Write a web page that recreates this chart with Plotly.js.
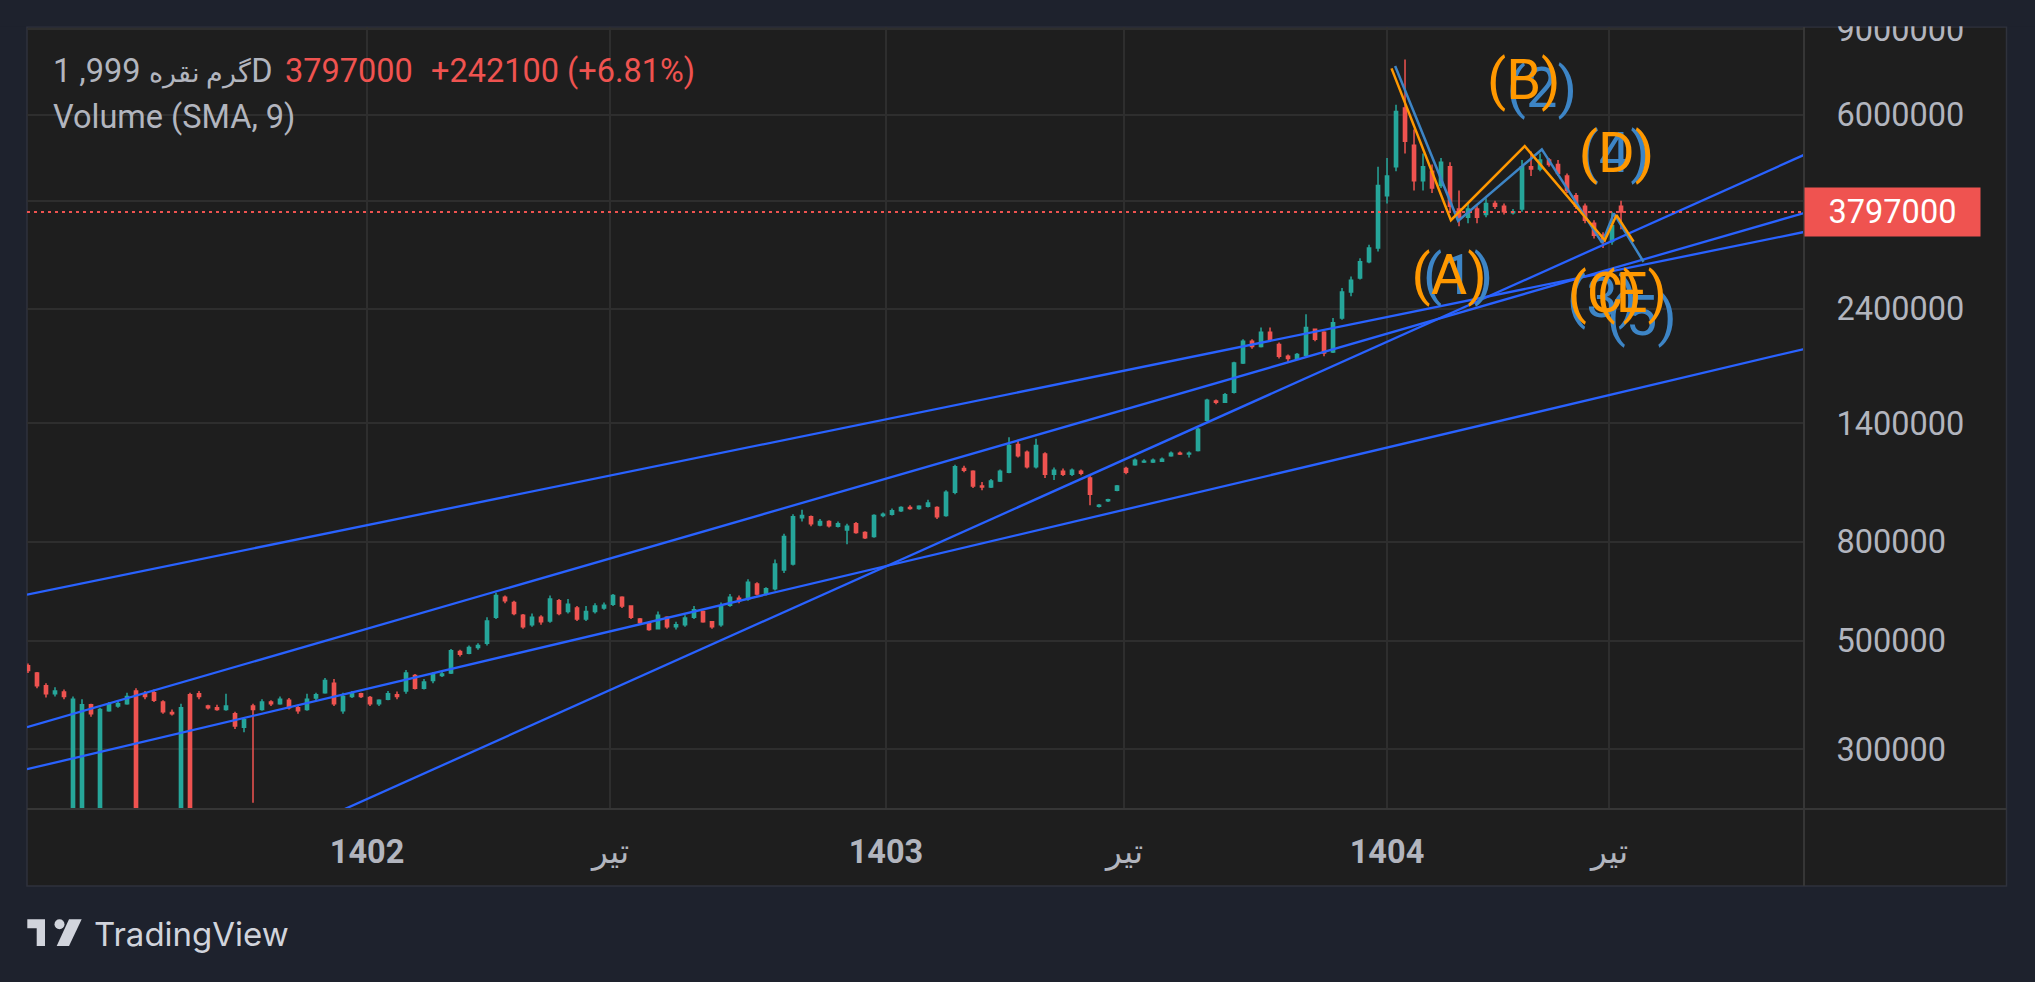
<!DOCTYPE html>
<html><head><meta charset="utf-8">
<script src="https://cdn.plot.ly/plotly-3.0.1.min.js"></script>
<style>html,body{margin:0;padding:0;background:#1e222d;}#chart{width:2035px;height:982px;}</style>
</head><body><div id="chart"></div>
<script>
// ---- OHLC data (in thousands), one entry per bar ----
const openK = [
445,430,405,390,393,200,200,370,200,360,
368,372,395,390,392,375,357,200,388,390,
368,365,362,355,333,368,362,375,372,378,
365,362,382,392,410,360,385,390,383,372,
380,388,395,425,400,415,425,430,476,472,
485,495,560,615,600,565,540,560,550,605,
575,585,555,575,585,595,615,590,555,545,
530,560,535,540,560,575,548,540,592,612,
610,655,625,640,700,720,895,900,865,880,
860,845,870,835,820,905,910,925,940,935,
945,940,905,1010,1130,1115,1040,1035,1065,1110,
1265,1220,1140,1210,1100,1115,1100,1115,1080,945,
970,1020,1130,1150,1165,1165,1170,1200,1215,1210,
1230,1420,1555,1545,1620,1860,2060,2010,2150,2030,
1920,1900,1930,2180,2150,1960,2300,2600,2780,3000,
3200,4100,4700,6200,5200,4400,4600,4300,4700,3850,
3700,3850,3750,3950,3900,3780,3850,4700,4650,4850,
4750,4500,4100,3900,3600,3400,3300,3900];
const highK = [
450,432,410,402,398,385,380,372,365,375,
378,392,400,395,398,378,362,372,392,395,
370,370,390,358,348,372,380,378,385,382,
370,390,392,420,418,392,395,392,386,380,
395,394,436,428,418,432,432,482,480,490,
495,560,628,620,605,568,570,565,620,610,
610,590,590,598,600,625,618,592,558,550,
575,562,548,565,590,578,550,600,625,620,
670,660,645,735,830,910,930,905,890,885,
880,870,878,840,910,918,935,945,950,950,
975,945,1020,1150,1145,1120,1060,1075,1125,1310,
1290,1230,1300,1220,1135,1130,1130,1125,1090,955,
980,1045,1140,1185,1180,1185,1190,1225,1225,1225,
1370,1570,1565,1615,1870,2080,2080,2200,2200,2050,
1935,1950,2340,2190,2160,2300,2650,2800,3050,3250,
4700,4900,6300,7800,5600,5000,4750,4900,4800,4200,
3950,3900,4050,4000,3950,3850,4850,5050,5000,4900,
4850,4550,4150,3950,3650,3450,3800,4000];
const lowK = [
430,400,383,385,380,200,200,350,200,358,
365,370,200,380,375,355,352,200,200,380,
362,360,360,330,325,233,360,368,370,362,
355,360,378,390,368,355,382,382,368,368,
378,380,390,398,398,410,422,428,465,470,
480,490,555,598,565,530,535,540,545,565,
570,550,550,570,580,590,585,555,540,525,
528,530,528,535,555,545,530,535,588,598,
605,620,620,635,690,715,880,860,860,855,
855,790,830,810,815,898,905,920,930,930,
940,890,900,1000,1110,1030,1020,1030,1060,1105,
1190,1130,1130,1080,1070,1090,1090,1095,950,940,
965,1015,1100,1145,1160,1160,1165,1195,1205,1190,
1225,1410,1530,1540,1610,1850,1990,2000,2060,1900,
1860,1890,1920,2060,1920,1950,2280,2550,2760,2980,
3150,3950,4600,5000,4200,4200,4150,4250,3800,3550,
3600,3600,3700,3850,3750,3750,3800,4500,4600,4700,
4500,4150,3850,3600,3350,3200,3250,3500];
const closeK = [
435,405,390,395,385,380,370,355,362,370,
372,385,200,385,378,358,355,365,200,385,
365,362,368,335,345,362,375,372,380,365,
360,380,388,415,372,385,390,385,372,378,
390,385,430,400,412,428,428,478,470,485,
490,550,620,605,570,535,560,548,610,570,
595,555,575,590,592,620,590,560,545,528,
565,535,540,558,580,548,535,590,615,605,
660,625,640,720,820,900,905,870,880,862,
870,860,835,815,905,910,925,940,935,945,
960,900,1010,1140,1120,1040,1035,1065,1115,1260,
1200,1140,1260,1100,1120,1100,1120,1105,1000,950,
975,1040,1110,1175,1170,1175,1180,1215,1210,1215,
1360,1560,1545,1600,1860,2060,2010,2150,2080,1920,
1900,1935,2200,2080,1950,2250,2600,2750,3000,3200,
4300,4500,6100,5300,4400,4700,4250,4800,3900,3700,
3850,3700,3950,3900,3800,3800,4700,4650,4850,4750,
4550,4200,3900,3650,3400,3300,3555,3797];

// ---- axis ticks ----
const xTickPos = [37.67, 64.67, 95.33, 121.78, 151, 175.67];
const xTickText = ['1402', 'تیر', '1403', 'تیر', '1404', 'تیر'];
const xTickBold = [true, false, true, false, true, false];
const yTickVals = [300000, 500000, 800000, 1400000, 2400000, 4000000, 6000000, 9000000];
const yTickText = ['300000', '500000', '800000', '1400000', '2400000', '', '6000000', '9000000'];

// ---- drawings: trend lines (bar index, price) ----
const trend1X = [-0.111, 197.33], trend1Y = [623000, 3453000];
const trend2X = [-0.111, 197.33], trend2Y = [333000, 3777000];
const trend3X = [-0.111, 197.33], trend3Y = [273000, 1987000];
const trend4X = [33.97, 197.33],  trend4Y = [221000, 4970000];

// ---- Elliott waves ----
const waveOrangeX = [151.5, 158.1, 166.3, 175.2, 176.5, 178.4];
const waveOrangeY = [7480000, 3650000, 5180000, 3320000, 3740000, 3300000];
const waveBlueX = [151.9, 158.9, 168.2, 174.9, 176.2, 179.5];
const waveBlueY = [7560000, 3640000, 5100000, 3280000, 3770000, 3000000];
const labelOrangeText = ['(A)', '(B)', '(C)', '(D)', '(E)'];
const labelOrangeX = [157.9, 166.2, 175.2, 176.5, 178.2];
const labelOrangeY = [2750000, 6910000, 2530000, 4890000, 2530000];
const labelBlueText = ['(1)', '(2)', '(3)', '(4)', '(5)'];
const labelBlueX = [158.9, 168.2, 174.9, 176.3, 179.3];
const labelBlueY = [2750000, 6650000, 2470000, 4890000, 2270000];

// ---- legend values ----
const symbolName = 'گرم نقره';
const symbolRest = ' 999, 1D';
const lastPrice = 3797000;
const changeText = '+242100 (+6.81%)';
const indicatorText = 'Volume (SMA, 9)';

const K = v => v * 1000;
const idx = openK.map((_, i) => i);
const xMin = -0.111, xMax = 197.33;

const UP = '#26a69a', DOWN = '#ef5350';
const traces = [
  {type: 'candlestick', x: idx, open: openK.map(K), high: highK.map(K), low: lowK.map(K), close: closeK.map(K),
   increasing: {line: {color: UP, width: 1.5}, fillcolor: UP},
   decreasing: {line: {color: DOWN, width: 1.5}, fillcolor: DOWN},
   whiskerwidth: 0, hoverinfo: 'skip'},
];
[[trend1X, trend1Y], [trend2X, trend2Y], [trend3X, trend3Y], [trend4X, trend4Y]].forEach(([x, y]) => {
  traces.push({type: 'scatter', mode: 'lines', x, y, line: {color: '#2962ff', width: 2.3}, hoverinfo: 'skip'});
});
traces.push({type: 'scatter', mode: 'lines', x: [xMin, xMax], y: [lastPrice, lastPrice],
  line: {color: '#ef5350', width: 2, dash: '3px,4px'}, hoverinfo: 'skip'});
traces.push({type: 'scatter', mode: 'lines', x: waveBlueX, y: waveBlueY, line: {color: '#3d85c6', width: 2.5}, hoverinfo: 'skip'});
traces.push({type: 'scatter', mode: 'lines', x: waveOrangeX, y: waveOrangeY, line: {color: '#ff9800', width: 2.5}, hoverinfo: 'skip'});
traces.push({type: 'scatter', mode: 'text', x: labelBlueX, y: labelBlueY, text: labelBlueText, textposition: 'middle center',
  textfont: {family: 'Roboto', size: 56, color: '#3d85c6'}, cliponaxis: false, hoverinfo: 'skip'});
traces.push({type: 'scatter', mode: 'text', x: labelOrangeX, y: labelOrangeY, text: labelOrangeText, textposition: 'middle center',
  textfont: {family: 'Roboto', size: 56, color: '#ff9800'}, cliponaxis: false, hoverinfo: 'skip'});

// pixel -> paper helpers for the frame decoration
const PL = 27, PR = 1804, PT = 27, PB = 809;
const px = x => (x - PL) / (PR - PL);
const py = y => (PB - y) / (PB - PT);
const pathOf = pts => 'M' + pts.map(p => px(p[0]).toFixed(5) + ',' + py(p[1]).toFixed(5)).join(' L') + ' Z';

const FONT = 'Roboto, "Open Sans", sans-serif';
const GRAY = '#b2b5be';
const layout = {
  width: 2035, height: 982, autosize: false,
  margin: {l: PL, r: 2035 - PR, t: PT, b: 982 - PB, pad: 0},
  paper_bgcolor: '#1e222d', plot_bgcolor: 'rgba(0,0,0,0)',
  showlegend: false, hovermode: false, boxgap: 0.5,
  font: {family: FONT, color: GRAY},
  xaxis: {range: [xMin, xMax], tickmode: 'array', tickvals: xTickPos,
    ticktext: xTickText.map((t, i) => xTickBold[i] ? '<b>' + t + '</b>' : t),
    showgrid: true, gridcolor: '#2e2e2e', gridwidth: 2, zeroline: false, showline: false,
    ticks: 'outside', ticklen: 14, tickcolor: 'rgba(0,0,0,0)',
    tickfont: {family: FONT, size: 32.5, color: GRAY}, rangeslider: {visible: false}, fixedrange: true},
  yaxis: {type: 'log', side: 'right', range: [5.3546, 6.9587], tickmode: 'array', tickvals: yTickVals, ticktext: yTickText,
    showgrid: true, gridcolor: '#2e2e2e', gridwidth: 2, zeroline: false, showline: false,
    ticks: 'outside', ticklen: 25, tickcolor: 'rgba(0,0,0,0)',
    tickfont: {family: FONT, size: 32.5, color: GRAY}, fixedrange: true},
  shapes: [
    {type: 'rect', xref: 'paper', yref: 'paper', x0: px(27), x1: px(2006.5), y0: py(886), y1: py(27),
     fillcolor: '#1e1e1e', line: {color: '#2f323c', width: 1.5}, layer: 'below'},
    {type: 'rect', xref: 'paper', yref: 'paper', x0: px(0), x1: px(2035), y0: py(26.2), y1: py(0),
     fillcolor: '#1e222d', line: {width: 0}, layer: 'above'},
    {type: 'line', xref: 'paper', yref: 'paper', x0: px(1804), x1: px(1804), y0: py(27), y1: py(886),
     line: {color: '#363636', width: 2}, layer: 'above'},
    {type: 'line', xref: 'paper', yref: 'paper', x0: px(27), x1: px(2006.5), y0: py(809), y1: py(809),
     line: {color: '#363636', width: 2}, layer: 'above'},
    {type: 'path', xref: 'paper', yref: 'paper', path: pathOf([[27.3,919.3],[45,919.3],[45,946],[36.7,946],[36.7,928.3],[27.3,928.3]]),
     fillcolor: '#d1d4dc', line: {width: 0}, layer: 'above'},
    {type: 'path', xref: 'paper', yref: 'paper', path: pathOf([[69,919.3],[81.7,919.3],[69,946],[56.7,946]]),
     fillcolor: '#d1d4dc', line: {width: 0}, layer: 'above'},
    {type: 'circle', xref: 'paper', yref: 'paper', x0: px(54.5), x1: px(64.5), y0: py(929.3), y1: py(919.3),
     fillcolor: '#d1d4dc', line: {width: 0}, layer: 'above'}
  ],
  annotations: [
    {xref: 'paper', yref: 'paper', x: px(51), y: py(71), xanchor: 'left', yanchor: 'middle', showarrow: false,
     text: '<span style="font-size:27px">' + symbolName + '</span>' + symbolRest,
     font: {family: FONT, size: 32.5, color: GRAY}},
    {xref: 'paper', yref: 'paper', x: px(283), y: py(71), xanchor: 'left', yanchor: 'middle', showarrow: false,
     text: String(lastPrice), font: {family: FONT, size: 32.5, color: '#ef5350'}},
    {xref: 'paper', yref: 'paper', x: px(429), y: py(71), xanchor: 'left', yanchor: 'middle', showarrow: false,
     text: changeText, font: {family: FONT, size: 32.5, color: '#ef5350'}},
    {xref: 'paper', yref: 'paper', x: px(51), y: py(117), xanchor: 'left', yanchor: 'middle', showarrow: false,
     text: indicatorText, font: {family: FONT, size: 32.5, color: GRAY}},
    {xref: 'paper', yref: 'y', x: 1, y: Math.log10(lastPrice), xanchor: 'left', yanchor: 'middle', showarrow: false,
     text: String(lastPrice), font: {family: FONT, size: 32.5, color: '#ffffff'},
     bgcolor: '#ef5350', width: 171, height: 44, borderpad: 2, align: 'center'},
    {xref: 'paper', yref: 'paper', x: px(92), y: py(934), xanchor: 'left', yanchor: 'middle', showarrow: false,
     text: 'TradingView', font: {family: 'Inter, Roboto, sans-serif', size: 33, color: '#d1d4dc'}}
  ]
};
Plotly.newPlot('chart', traces, layout, {displayModeBar: false, staticPlot: true});
</script>
</body></html>
